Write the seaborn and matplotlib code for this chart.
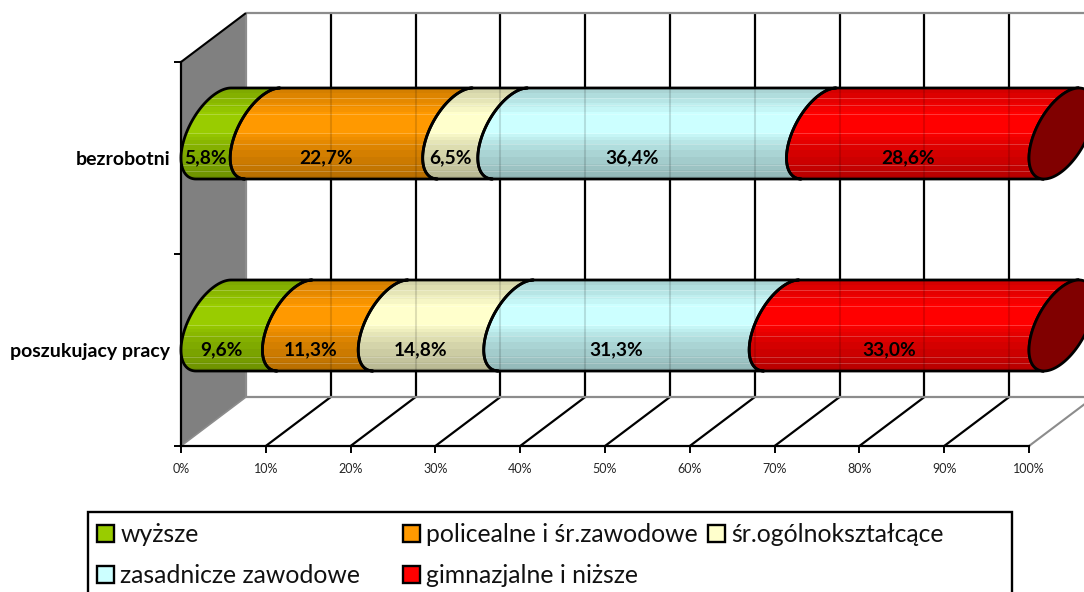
import numpy as np
import pandas as pd
import matplotlib
matplotlib.use("Agg")
import matplotlib.pyplot as plt
from matplotlib.patches import Polygon, Patch, Rectangle
from matplotlib.ticker import FuncFormatter
from matplotlib.colors import to_rgb
import seaborn as sns

groups = ["bezrobotni", "poszukujacy pracy"]
levels = ["wyższe", "policealne i śr.zawodowe", "śr.ogólnokształcące",
          "zasadnicze zawodowe", "gimnazjalne i niższe"]
bezrobotni = [5.8, 22.7, 6.5, 36.4, 28.6]
poszukujacy = [9.6, 11.3, 14.8, 31.3, 33.0]
colors = ["#99CC00", "#FF9900", "#FFFFCC", "#CCFFFF", "#FF0000"]
xticks = [0, 10, 20, 30, 40, 50, 60, 70, 80, 90, 100]

FONT = ["Lato", "DejaVu Sans"]
sns.set_theme(style="white")
plt.rcParams["font.family"] = FONT

W, H = 1084, 592
fig = plt.figure(figsize=(W / 100, H / 100), dpi=100, facecolor="white")
ax = fig.add_axes([181 / W, 1 - 446 / H, 848 / W, 384 / H], facecolor="none")

rows = []
for g, vals in zip(groups, [bezrobotni, poszukujacy]):
    for lev, cum in zip(levels, np.cumsum(vals)):
        rows.append({"grupa": g, "poziom": lev, "udzial": cum})
df = pd.DataFrame(rows)

sns.barplot(data=df, y="grupa", x="udzial", hue="poziom", order=groups,
            hue_order=levels, palette=colors, dodge=False, width=0.474,
            saturation=1, orient="h", ax=ax, legend=False)
ax.set_xlim(0, 100)
ax.set_ylim(1.5, -0.5)
ax.set_xlabel("")
ax.set_ylabel("")

# oblique depth of the 3D box, in data units
DX = 65 / 8.48
DY = 49 / 192
BB = DY / 2
INK = "#000000"
GREY = "#8C8C8C"

# walls and floor
ax.add_patch(Polygon([(0, -0.5), (DX, -0.5 - DY), (DX, 1.5 - DY), (0, 1.5)],
                     closed=True, fc="#808080", ec="none", zorder=1, clip_on=False))
kw = dict(clip_on=False, solid_capstyle="butt")
ax.plot([DX, DX], [-0.5 - DY, 1.5 - DY], color=GREY, lw=1.6, zorder=1.5, **kw)
ax.plot([DX, 100 + DX], [-0.5 - DY] * 2, color=GREY, lw=1.6, zorder=1.5, **kw)
ax.plot([DX, 100 + DX], [1.5 - DY] * 2, color=GREY, lw=1.6, zorder=1.5, **kw)
ax.plot([0, DX], [-0.5, -0.5 - DY], color=INK, lw=1.5, zorder=1.6, **kw)
ax.plot([0, DX], [1.5, 1.5 - DY], color=GREY, lw=1.2, zorder=1.6, **kw)
ax.plot([100, 100 + DX], [1.5, 1.5 - DY], color=GREY, lw=1.5, zorder=1.6, **kw)
for t in xticks[1:]:
    ax.plot([t + DX, t + DX], [-0.5 - DY, 1.5 - DY], color=INK, lw=1.6, zorder=1.4, **kw)
    if t < 100:
        ax.plot([t, t + DX], [1.5, 1.5 - DY], color=INK, lw=1.6, zorder=1.4, **kw)

# vertical shading of a cylinder, light hairlines included
n_rows = 92
stops_pos = [0.0, 0.12, 0.29, 0.49, 0.62, 0.80, 1.0]
stops_val = [0.82, 0.88, 1.00, 1.00, 0.88, 0.80, 0.70]
hair = [0.12, 0.20, 0.30, 0.50, 0.63, 0.85, 0.92]
pos = (np.arange(n_rows) + 0.5) / n_rows
shade = np.interp(pos, stops_pos, stops_val)
shade = np.round(shade * 30) / 30


def strip(color):
    arr = np.outer(shade, np.array(to_rgb(color)))
    for f in hair:
        i = int(f * n_rows)
        arr[i] = arr[i] + (1 - arr[i]) * 0.22
    return np.clip(arr, 0, 1)[:, None, :]


def arc(x, yc, h, n=60):
    vv = np.sqrt(h * h - BB * BB)
    t0 = np.arctan2(BB / h, -vv / h)
    t1 = np.arctan2(-BB / h, vv / h) + 2 * np.pi
    t = np.linspace(t0, t1, n)
    return np.c_[x + DX / 2 + DX / 2 * np.sin(t), yc + vv * np.cos(t) - BB * np.sin(t)]


for lev_i, cont in enumerate(ax.containers):
    for bar in cont:
        bar.set_visible(False)
        cat = bar.get_y() + bar.get_height() / 2
        h = bar.get_height() / 2
        yc = cat - DY / 2
        x1 = bar.get_width()
        x0 = ax.containers[lev_i - 1][int(round(cat))].get_width() if lev_i else 0.0
        pts = np.r_[arc(x0, yc, h), arc(x1, yc, h)[::-1]]
        im = ax.imshow(strip(colors[lev_i]), extent=(x0, x1 + DX, yc + h, yc - h),
                       aspect="auto", zorder=3, interpolation="nearest")
        outline = Polygon(pts, closed=True, fc="none", ec=INK, lw=2.0, zorder=4,
                          clip_on=False, joinstyle="round")
        ax.add_patch(outline)
        im.set_clip_box(fig.bbox)
        im.set_clip_path(outline)

ax.set_xlim(0, 100)
ax.set_ylim(1.5, -0.5)

# rear gridlines faintly showing through the bars
for cat in range(len(groups)):
    yc = cat - DY / 2
    for t in xticks[1:]:
        ax.plot([t + DX, t + DX], [yc - 0.235, yc + 0.235], color=INK, lw=1.5,
                alpha=0.13, zorder=3.5, **kw)

# closing caps on the right
for cat in range(len(groups)):
    yc = cat - DY / 2
    h = 0.474 / 2
    vv = np.sqrt(h * h - BB * BB)
    t = np.linspace(0, 2 * np.pi, 160)
    cap = np.c_[100 + DX / 2 + DX / 2 * np.sin(t), yc + vv * np.cos(t) - BB * np.sin(t)]
    ax.add_patch(Polygon(cap, closed=True, fc="#800000", ec=INK, lw=2.0, zorder=5, clip_on=False))

# value labels
for cat, vals in enumerate([bezrobotni, poszukujacy]):
    left = 0.0
    for v in vals:
        ax.text(left + v / 2, cat, f"{v:.1f}%".replace(".", ","), ha="center", va="center",
                fontsize=13.8, fontweight="bold", color="black", zorder=6, family=FONT)
        left += v

# axes
for s in ["top", "right"]:
    ax.spines[s].set_visible(False)
for s in ["left", "bottom"]:
    ax.spines[s].set_visible(True)
    ax.spines[s].set_color(INK)
    ax.spines[s].set_linewidth(1.6)
ax.set_xticks(xticks)
ax.xaxis.set_major_formatter(FuncFormatter(lambda v, _: f"{v:.0f}%"))
ax.tick_params(axis="x", which="major", bottom=True, length=5, width=1.4, color=INK,
               labelsize=9, labelcolor="#262626", pad=7.5)
ax.set_yticks([-0.5, 0.5, 1.5], labels=["", "", ""])
ax.set_yticks([0, 1], labels=groups, minor=True)
ax.tick_params(axis="y", which="major", left=True, length=5, width=1.4, color=INK)
ax.tick_params(axis="y", which="minor", left=False, length=0, pad=8,
               labelsize=14, labelcolor="black")
for lab in ax.get_yticklabels(minor=True):
    lab.set_fontweight("bold")
ax.grid(False)

# legend frame running off the bottom of the picture, as in the original
fig.add_artist(Rectangle((88 / W, 1 - 620 / H), 924 / W, 108 / H, transform=fig.transFigure,
                         fc="white", ec=INK, lw=1.7, zorder=-1))

# legend, filled row by row in the original reading order
order = [0, 3, 1, 4, 2]
handles = [Patch(fc=colors[i], ec=INK, lw=1.7, label=levels[i]) for i in order]
leg = ax.legend(handles=handles, ncol=3, loc="upper left",
                bbox_to_anchor=(97 / W, 1 - 523 / H), bbox_transform=fig.transFigure,
                borderaxespad=0, borderpad=0, fontsize=17.8, frameon=False,
                handlelength=0.7, handleheight=0.7, handletextpad=0.24,
                columnspacing=0, labelspacing=0.74)
leg.set_zorder(10)
leg.set_in_layout(False)
col_widths = [306, 305, 305]
for col, w in zip(leg._legend_handle_box.get_children(), col_widths):
    col.width = w
    col.align = "left"
for txt in leg.get_texts():
    txt.set_color("#111111")

fig.savefig("out.png", dpi=100, facecolor="white")
